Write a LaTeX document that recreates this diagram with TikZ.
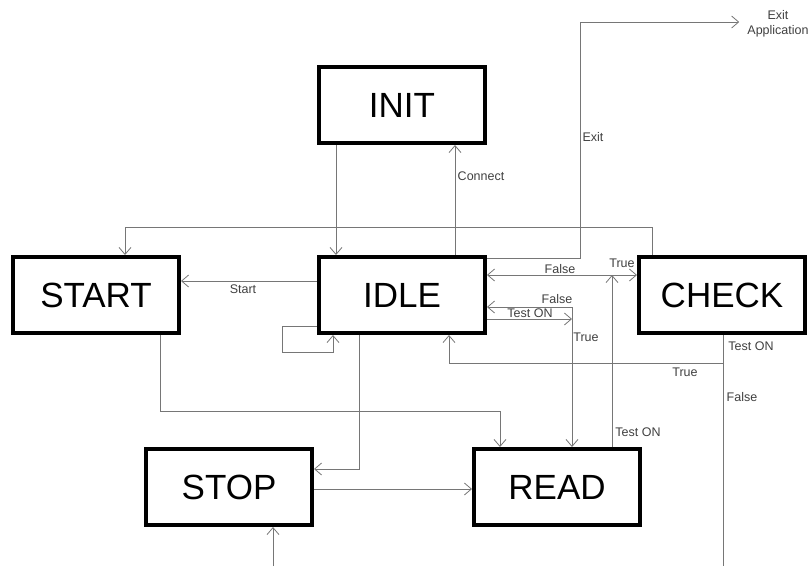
\documentclass[tikz,border=0pt]{standalone}
\usepackage{fontspec}
\setmainfont{Liberation Sans}
\usetikzlibrary{arrows.meta}
\definecolor{LineGray}{RGB}{118,118,118}

\begin{document}
\begin{tikzpicture}[x=1pt,y=-1pt,>={Straight Barb[length=7pt,width=12pt]},
  state/.style={draw=black,line width=4pt,minimum width=166pt,minimum height=76pt,
                inner sep=0pt,font=\fontsize{35}{40}\selectfont},
  conn/.style={draw=LineGray,line width=0.8pt},
  lab/.style={text=black!75,font=\fontsize{12.5}{15}\selectfont,inner sep=0pt}]
  \useasboundingbox (0,0) rectangle (811,566);
  % states
  \foreach \n/\t/\x/\y in {init/INIT/402/105,idle/IDLE/402/295,start/START/96/295,
                           check/CHECK/722/295,stop/STOP/229/487,read/READ/557/487}
    \node[state] (\n) at (\x,\y) {\t};
  \node[lab,align=center] (exitapp) at (778,24) {Exit\\Application};
  \coordinate (stopin) at (273,566);
  \coordinate (checkout) at (723,566);
  % connector labels
  \foreach \n/\t/\x/\y in {lconn/Connect/481/176,lexit/Exit/593/137,lstart/Start/243/289,
                           lfalsea/False/560/269,ltruea/True/622/263,lfalseb/False/557/299,
                           ltesta/Test ON/530/313,ltrueb/True/586/337,ltestb/Test ON/751/346,
                           ltruec/True/685/372,lfalsec/False/742/397,ltestc/Test ON/638/432}
    \node[lab] (\n) at (\x,\y) {\t};
  % connectors
  \draw[conn,->] (init.south -| 336,0) -- (idle.north -| 336,0);
  \draw[conn,->] (idle.north -| 455,0) -- (init.south -| 455,0);
  \draw[conn,->] (check.north -| 652,0) -- (652,227) -| (start.north -| 125,0);
  \draw[conn,->] (idle.east |- 0,258) -| (580,22) -- ([xshift=-8pt]exitapp.west |- 0,22);
  \draw[conn,<->] (idle.east |- 0,275) -- (check.west |- 0,275);
  \draw[conn,->] (read.north -| 612,0) -- (612,275);
  \draw[conn,<->] (idle.east |- 0,307) -| (read.north -| 572,0);
  \draw[conn,->] (idle.east |- 0,319) -- (572,319);
  \draw[conn] (check.south -| 723,0) -- (checkout);
  \draw[conn,->] (723,363) -| (idle.south -| 449,0);
  \draw[conn,->] (idle.west |- 0,281) -- (start.east |- 0,281);
  \draw[conn,->] (idle.west |- 0,326) -- (282,326) |- (333,352) -- (idle.south -| 333,0);
  \draw[conn,->] (start.south -| 160,0) -- (160,411) -| (read.north -| 500,0);
  \draw[conn,->] (idle.south -| 359,0) |- (stop.east |- 0,469);
  \draw[conn,->] (stop.east |- 0,489) -- (read.west |- 0,489);
  \draw[conn,->] (stopin) -- (stop.south -| stopin);
\end{tikzpicture}
\end{document}
